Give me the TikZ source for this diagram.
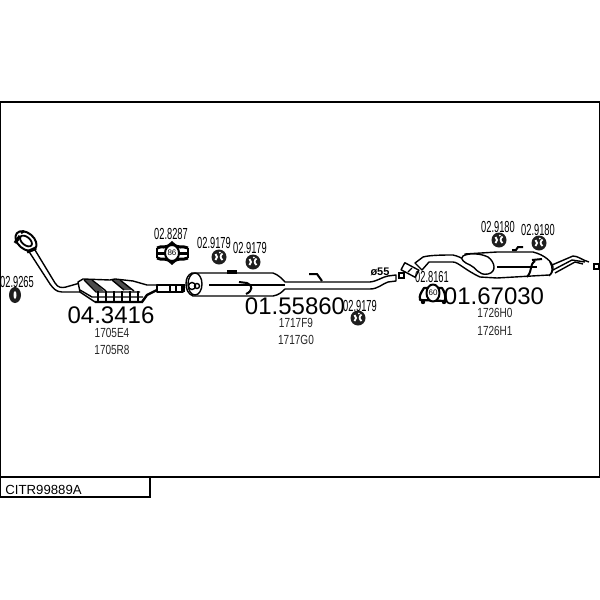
\documentclass[tikz,border=0pt]{standalone}
\usepackage{fontspec}
\setmainfont{Liberation Sans}
\tikzset{x=0.5pt,y=-0.5pt,
 bignum/.style={inner sep=0pt,font=\fontsize{12}{12}\selectfont},
 part/.style={inner sep=0pt,font=\fontsize{6.6}{7}\selectfont,xscale=0.76,text=black!85},
 ref/.style={inner sep=0pt,font=\fontsize{8}{8}\selectfont,xscale=0.58},
 pipe/.style={draw=black,fill=white,line width=0.7pt,line join=round},
 lin/.style={draw=black,line width=0.7pt},
 ringpic/.pic={\fill[black!88] (0,0) circle (7.5);
   \draw[white,line width=0.9pt] (-3.5,-3) .. controls (-1.5,-1.5) and (-1.5,1.5) .. (-3.5,3);
   \draw[white,line width=0.9pt] (3.5,-3.5) .. controls (1,-1.5) and (1,1) .. (3.5,3);
   \fill[white] (0.8,-4.5) circle (1);}
}
\begin{document}
\begin{tikzpicture}
\useasboundingbox (0,0) rectangle (600,600);
\fill[white] (0,0) rectangle (600,600);
% frame
\draw[line width=0.6pt] (0,102) rectangle (600,477);
\draw[line width=0.7pt] (0,477) rectangle (150,497);
\node[inner sep=0pt,anchor=west,font=\fontsize{6.6}{8}\selectfont] (title) at (5,490) {CITR99889A};
% front pipe
\path[pipe] (35,250) -- (55,283) .. controls (58,288) and (62,288) .. (66,287) -- (80,283) -- (80,292) -- (62,292) .. controls (56,292) and (53,288) .. (50,284) -- (28,250) -- cycle;
\draw[line width=1pt,fill=white,rotate around={-40:(26,241)}] (26,241) ellipse (12 and 8);
\draw[line width=0.9pt,fill=white,rotate around={-40:(26,241)}] (26,241) ellipse (7 and 4);
\draw[line width=1.6pt] (15,243) -- (20,236);
\draw[line width=1.6pt] (27,252) -- (36,248);
\draw[line width=1.2pt] (21,233) -- (24,231);
% catalyst
\path[pipe] (78,282) -- (83,279) -- (110,280) -- (115,279) -- (133,281) -- (147,285) -- (157,285) -- (157,290) -- (147,295) -- (142,302) -- (95,302) -- (80,292) -- cycle;
\fill[black!70] (84,280) -- (96,291) -- (104,291) -- (92,280) -- cycle;
\fill[black!70] (112,280) -- (124,290) -- (132,290) -- (120,280) -- cycle;
\draw[lin] (84,280) -- (96,292) -- (140,292);
\draw[lin] (112,280) -- (124,290);
\draw[lin] (92,280) -- (106,291);
\draw[lin] (120,280) -- (134,291);
\draw[lin] (80,290) -- (92,297) -- (143,297);
\foreach \xx in {98,106,114,122,130,138}{\draw[lin] (\xx,291) -- (\xx,302);}
\draw[line width=1.2pt] (95,302) -- (142,302) -- (147,295) -- (157,290);
% intermediate pipe
\path[pipe] (157,285) rectangle (170,292);
\path[pipe] (170,285) rectangle (183,292);
\draw[lin] (176,285) -- (176,292);
\draw[line width=1.6pt] (183,284) -- (183,292);
% middle muffler
\path[pipe] (192,273) -- (273,273) .. controls (279,275) and (282,279) .. (285,282) -- (370,282) .. controls (378,281) and (382,277) .. (388,276) -- (396,275) -- (396,281) -- (388,282) .. controls (382,284) and (378,289) .. (370,289) -- (285,289) .. controls (282,292) and (279,295) .. (273,296) -- (193,296) .. controls (188,294) and (186,289) .. (186,284) .. controls (186,278) and (188,275) .. (192,273) -- cycle;
\draw[lin,fill=white] (195,284) ellipse (7 and 11);
\draw[lin] (192,286) circle (3.5);
\draw[lin] (197,286) circle (2.5);
\draw[lin] (209,285) -- (285,285);
\draw[line width=1pt] (239,282) -- (247,283) .. controls (253,285) and (253,291) .. (246,294);
\draw[line width=1.6pt] (227,272) -- (237,272);
\draw[line width=1pt] (309,274) -- (317,274) -- (322,281);
% connection
\draw[lin,fill=white] (399,273) rectangle (404,278);
% tailpipes
\draw[lin] (552,265) -- (573,256) .. controls (578,256) and (582,260) .. (589,262);
\draw[lin] (553,270) -- (572,260) -- (585,262);
\draw[lin] (555,273) -- (575,262) -- (583,264);
% rear pipe + muffler
\path[pipe] (415,263) -- (423,257) .. controls (430,255) and (445,255) .. (453,255) .. controls (462,257) and (468,262) .. (475,268) -- (470,262) -- (465,254) -- (497,252) -- (533,252) .. controls (545,255) and (552,262) .. (553,267) .. controls (553,272) and (551,275) .. (549,275) -- (497,278) -- (480,277) .. controls (465,270) and (458,262) .. (453,262) -- (429,262) -- (422,270) -- cycle;
\path[pipe] (463,256) .. controls (468,253) and (480,253) .. (488,257) .. controls (495,262) and (497,272) .. (488,274) .. controls (478,276) and (476,267) .. (470,265) .. controls (465,263) and (459,259) .. (463,256) -- cycle;
\draw[lin] (497,267) -- (537,267);
\draw[line width=1pt] (512,250) -- (516,250) -- (518,247) -- (523,247);
\draw[line width=1pt] (532,260) -- (542,259) (535,261) .. controls (529,265) and (533,270) .. (527,277);
\draw[lin] (550,262) .. controls (553,268) and (553,272) .. (549,276);
\draw[lin,fill=white] (594,264) rectangle (599,269);
\path[pipe,rotate around={-28:(410,270)}] (402,266) rectangle (418,274);
\draw[lin] (408,272) -- (412,268);
% hangers
\fill[black!88] (15,295) ellipse (6 and 8);
\fill[white] (15,295) ellipse (1.5 and 4);
\path (219,257) pic {ringpic};
\path (253,262) pic {ringpic};
\path (358,318) pic {ringpic};
\path (499,240) pic {ringpic};
\path (539,243) pic {ringpic};
% clamp 02.8287
\draw[line width=1.5pt] (157,248) .. controls (162,245) and (165,250) .. (172,243) .. controls (179,250) and (182,245) .. (188,248);
\draw[line width=1.5pt] (157,258) .. controls (162,261) and (165,256) .. (172,263) .. controls (179,256) and (182,261) .. (188,258);
\draw[line width=1.5pt] (156,253) -- (188,253);
\draw[line width=1.2pt] (157,248) -- (157,258) (188,248) -- (188,258);
\path[pipe,line width=1pt] (172,253) ellipse (7 and 8);
\node[inner sep=0pt,font=\fontsize{4}{4}\selectfont] (c1) at (172,253) {86};
% clamp 02.8161
\path[pipe,line width=1.1pt] (424,288) .. controls (421,293) and (419,295) .. (420,300) -- (445,301) .. controls (446,295) and (444,291) .. (442,288) -- cycle;
\path[pipe,line width=1pt] (433,293) ellipse (6.5 and 8.5);
\node[inner sep=0pt,font=\fontsize{4}{4}\selectfont] (c2) at (433,293) {60};
\fill (423,302) circle (2.2);
\fill (444,302) circle (2.2);
% labels
\node[ref] (r1) at (17,282) {02.9265};
\node[ref] (r2) at (171,234) {02.8287};
\node[ref] (r3) at (214,243) {02.9179};
\node[ref] (r4) at (250,248) {02.9179};
\node[ref] (r5) at (360,306) {02.9179};
\node[ref] (r6) at (432,277) {02.8161};
\node[ref] (r7) at (498,227) {02.9180};
\node[ref] (r8) at (538,230) {02.9180};
\node[inner sep=0pt,font=\bfseries\fontsize{5.5}{6}\selectfont] (d55) at (380,272) {ø55};
\node[bignum] (n1) at (111,315) {04.3416};
\node[bignum] (n2) at (295,306) {01.55860};
\node[bignum] (n3) at (494,296) {01.67030};
\node[part] (p1) at (112,333) {1705E4};
\node[part] (p2) at (112,350) {1705R8};
\node[part] (p3) at (296,323) {1717F9};
\node[part] (p4) at (296,340) {1717G0};
\node[part] (p5) at (495,313) {1726H0};
\node[part] (p6) at (495,331) {1726H1};
\end{tikzpicture}
\end{document}
